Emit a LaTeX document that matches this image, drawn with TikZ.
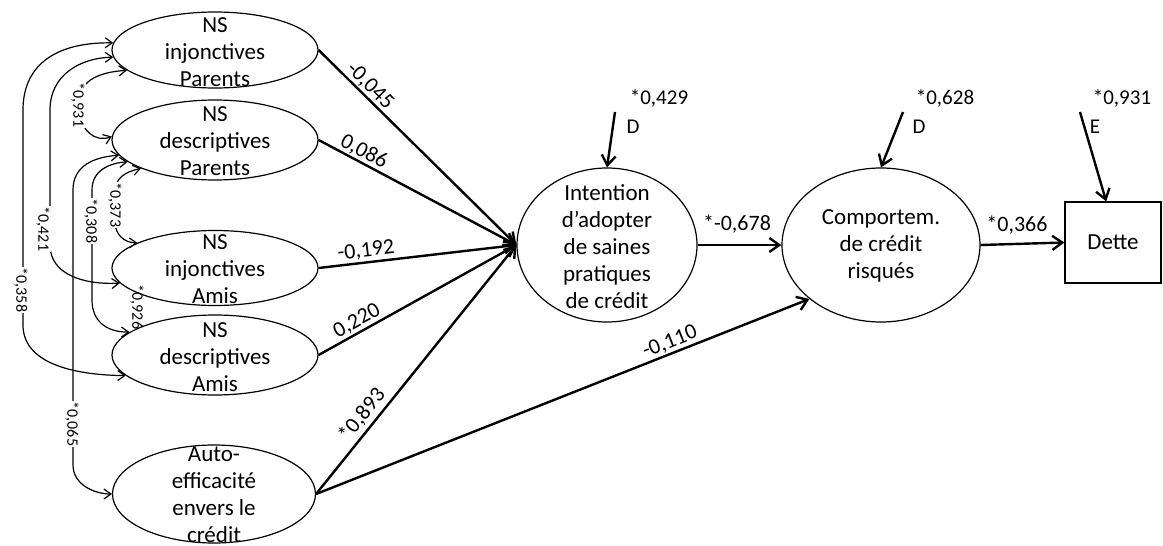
\documentclass[tikz,border=0pt]{standalone}
\usepackage{fontspec}
\setmainfont{Carlito}
\usetikzlibrary{arrows.meta,calc,shapes.geometric}

\begin{document}
\begin{tikzpicture}[x=0.5pt,y=-0.5pt,
  latent/.style={draw, line width=0.6pt, ellipse, inner sep=0pt},
  ntext/.style={align=center, inner sep=0pt, font=\fontsize{11.5}{13.5}\selectfont},
  obsbox/.style={draw, line width=0.6pt, rectangle, inner sep=0pt,
    font=\fontsize{11.5}{13.5}\selectfont},
  effect/.style={line width=1.2pt, -{Straight Barb[length=5pt,width=7pt]}},
  cov/.style={line width=0.6pt,
    {Straight Barb[length=3.5pt,width=5pt]}-{Straight Barb[length=3.5pt,width=5pt]}},
  coef/.style={font=\fontsize{11}{13}\selectfont, inner sep=0pt},
  dist/.style={font=\fontsize{10.5}{12}\selectfont, inner sep=0pt},
  clab/.style={font=\fontsize{8}{9}\selectfont, rotate=-90, fill=white, inner sep=0.5pt},
]
\useasboundingbox (0,0) rectangle (1163,546);

% exogenous latent variables
\node[latent, minimum width=103pt, minimum height=38pt] (e1) at (215,50) {};
\node[ntext] (t1) at (215,52) {NS\\injonctives\\Parents};
\node[latent, minimum width=103pt, minimum height=40pt] (e2) at (215,140) {};
\node[ntext] (t2) at (215,141) {NS\\descriptives\\Parents};
\node[latent, minimum width=103pt, minimum height=37.5pt] (e3) at (215,268) {};
\node[ntext] (t3) at (215,269) {NS\\injonctives\\Amis};
\node[latent, minimum width=103pt, minimum height=40pt] (e4) at (215,355) {};
\node[ntext] (t4) at (215,357) {NS\\descriptives\\Amis};
\node[latent, minimum width=101.5pt, minimum height=49pt] (e5) at (214,494) {};
\node[ntext] (t5) at (214,495) {Auto-\\efficacité\\envers le\\crédit};

% endogenous variables
\node[latent, minimum width=90pt, minimum height=77pt] (int) at (607,245) {};
\node[ntext] (tint) at (607,247) {Intention\\d’adopter\\de saines\\pratiques\\de crédit};
\node[latent, minimum width=99pt, minimum height=77pt] (comp) at (881,245) {};
\node[ntext] (tcomp) at (881,246) {Comportem.\\de crédit\\risqués};
\node[obsbox, minimum width=48pt, minimum height=40.5pt] (dette) at (1113,242.5) {Dette};

% structural paths
\draw[effect] (e1.east) -- (int.west);
\draw[effect] (e2.east) -- (int.west);
\draw[effect] (e3.east) -- (int.west);
\draw[effect] (e4.east) -- (int.west);
\draw[effect] (e5.east) -- (int.west);
\draw[effect] (e5.east) -- (comp.217);
\draw[effect] (int.east) -- (comp.west);
\draw[effect] (comp.east) -- (dette.west);

% path coefficients
\node[coef, rotate=-44.4] (b1) at (370,86) {-0,045};
\node[coef, rotate=-27.8] (b2) at (364,152) {0,086};
\node[coef, rotate=6.6] (b3) at (366,251) {-0,192};
\node[coef, rotate=28.9] (b4) at (357,321) {0,220};
\node[coef, rotate=51] (b5) at (362,415) {*0,893};
\node[coef, rotate=21.6] (b6) at (670,342) {-0,110};
\node[coef] (b7) at (737,224) {*-0,678};
\node[coef] (b8) at (1017,225) {*0,366};

% disturbances and error term
\coordinate (d1) at (615,112);
\coordinate (d2) at (903,112);
\coordinate (d3) at (1080,112);
\draw[effect] (d1) -- (int.north);
\draw[effect] (d2) -- (comp.north);
\draw[effect] (d3) -- ($(dette.north west)!0.43!(dette.north east)$);
\node[dist] (d1v) at (659,98) {*0,429};
\node[dist] (d1l) at (633,127) {D};
\node[dist] (d2v) at (945,98) {*0,628};
\node[dist] (d2l) at (919,127) {D};
\node[dist] (d3v) at (1122,98) {*0,931};
\node[dist] (d3l) at (1095,127) {E};

% correlations between exogenous variables
\draw[cov] (e1.176) .. controls (60,42) and (23,62) .. (23,110) -- (23,325)
  .. controls (23,362) and (70,375) .. (e4.193);
\node[clab] (c14) at (21,290) {*0,358};
\draw[cov] (e1.184) .. controls (80,58) and (50,75) .. (50,110) -- (50,245)
  .. controls (50,275) and (85,285) .. (e3.189);
\node[clab] (c13) at (43,229) {*0,421};
\draw[cov] (e1.193) .. controls (100,72) and (80,80) .. (80,100) -- (80,110)
  .. controls (80,130) and (95,143) .. (e2.178);
\node[clab] (c12) at (78,105) {*0,931};
\draw[cov] (e2.189) .. controls (95,157) and (73,165) .. (73,190) -- (73,465)
  .. controls (73,485) and (95,494) .. (e5.west);
\node[clab] (c25) at (72,424) {*0,065};
\draw[cov] (e2.194) .. controls (110,163) and (92,170) .. (92,190) -- (92,300)
  .. controls (92,320) and (105,332) .. (e4.165);
\node[clab] (c24) at (91,221) {*0,308};
\draw[cov] (e2.201) .. controls (125,172) and (115,178) .. (115,192) -- (115,222)
  .. controls (115,235) and (125,243) .. (e3.162);
\node[clab] (c23) at (115,205) {*0,373};
\node[clab, fill=none] (c34) at (137,307) {*0,926};
\end{tikzpicture}
\end{document}
